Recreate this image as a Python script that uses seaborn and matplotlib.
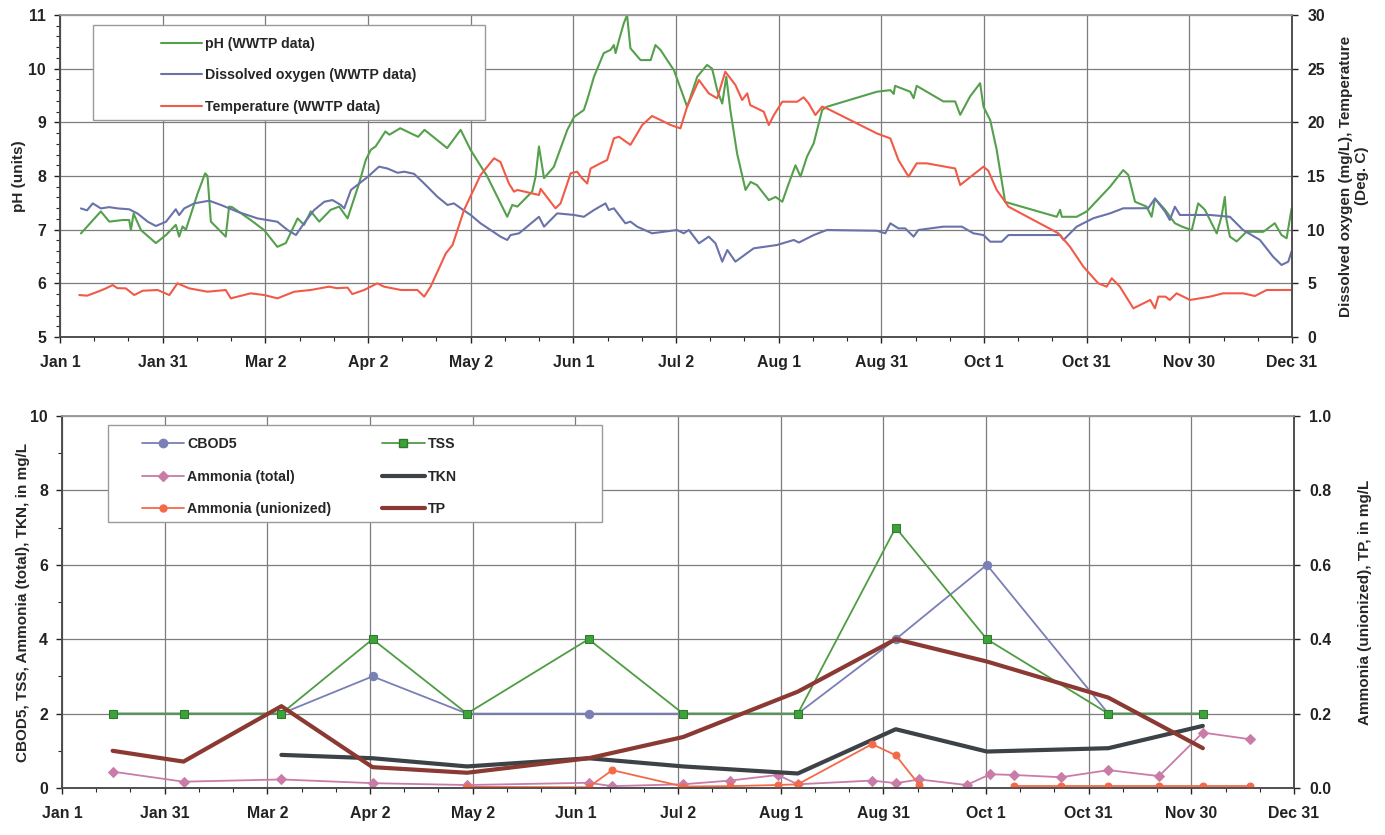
import numpy as np
import pandas as pd
import matplotlib
matplotlib.use("Agg")
import matplotlib.pyplot as plt
from matplotlib.lines import Line2D
from matplotlib.patches import Rectangle
from matplotlib.ticker import MultipleLocator, FixedLocator, FormatStrFormatter
import seaborn as sns

# ---------------------------------------------------------------- data
# x positions are days after Jan 1
month_labels = ["Jan 1", "Jan 31", "Mar 2", "Apr 2", "May 2", "Jun 1", "Jul 2",
                "Aug 1", "Aug 31", "Oct 1", "Oct 31", "Nov 30", "Dec 31"]

ph_day = [6.2, 12.1, 14.6, 18.6, 20.5, 21.0, 21.8, 24.0, 28.4, 31.4, 34.3, 35.3,
          36.3, 37.3, 40.8, 43.0, 43.7, 44.7, 49.1, 50.1, 51.0, 56.5, 60.5, 64.4,
          66.9, 70.4, 72.3, 74.3, 76.8, 80.2, 82.7, 85.2, 88.6, 90.6, 92.1, 93.5,
          96.4, 97.6, 100.8, 106.1, 108.0, 114.7, 118.7, 121.7, 126.6, 132.5, 134.0,
          135.5, 139.9, 140.9, 141.9, 143.4, 146.3, 150.3, 152.3, 155.2, 156.2,
          158.2, 161.1, 163.1, 164.1, 164.6, 165.6, 167.0, 168.0, 169.0, 172.0,
          175.0, 176.4, 177.9, 181.9, 185.8, 188.8, 191.7, 193.2, 194.7, 196.2,
          197.4, 198.6, 200.6, 203.1, 204.6, 206.5, 210.0, 212.0, 214.0, 215.9,
          217.9, 219.4, 221.3, 223.3, 225.8, 227.2, 242.0, 246.0, 247.0, 247.4,
          251.9, 252.9, 253.8, 261.7, 265.2, 266.7, 269.6, 272.6, 273.6, 275.6,
          277.5, 280.0, 281.5, 295.3, 296.3, 296.8, 301.2, 304.2, 311.1, 315.0,
          316.5, 318.5, 321.9, 323.4, 324.4, 327.4, 330.3, 332.3, 335.3, 337.2,
          339.2, 342.7, 344.1, 345.1, 345.6, 346.6, 348.6, 351.5, 356.5, 359.9,
          361.9, 363.4, 364.9]
ph_val = [6.93, 7.34, 7.15, 7.18, 7.18, 6.99, 7.30, 6.99, 6.75, 6.90, 7.09, 6.87,
          7.06, 7.00, 7.68, 8.05, 8.00, 7.15, 6.87, 7.43, 7.42, 7.18, 6.99, 6.68,
          6.75, 7.21, 7.09, 7.34, 7.15, 7.37, 7.43, 7.21, 7.86, 8.30, 8.49, 8.55,
          8.83, 8.77, 8.89, 8.73, 8.86, 8.52, 8.86, 8.48, 7.99, 7.24, 7.46,
          7.43, 7.71, 7.99, 8.55, 7.96, 8.17, 8.86, 9.10, 9.23, 9.42,
          9.85, 10.29, 10.35, 10.44, 10.29, 10.53, 10.84, 11.00, 10.38, 10.16,
          10.16, 10.44, 10.35, 9.97, 9.29, 9.85, 10.07, 10.00, 9.60, 9.35,
          9.85, 9.23, 8.42, 7.74, 7.89, 7.83, 7.55, 7.61, 7.52, 7.86,
          8.20, 7.99, 8.36, 8.61, 9.23, 9.29, 9.57, 9.60, 9.53, 9.68,
          9.57, 9.45, 9.68, 9.39, 9.39, 9.14, 9.48, 9.73, 9.29, 9.04,
          8.49, 7.52, 7.49, 7.24, 7.37, 7.24, 7.24, 7.34, 7.80, 8.11,
          8.02, 7.52, 7.43, 7.24, 7.58, 7.37, 7.12, 7.06, 6.99, 7.49,
          7.37, 6.93, 7.24, 7.61, 7.18, 6.87, 6.78, 6.96, 6.96, 7.12,
          6.90, 6.84, 7.40]

do_day = [6.2, 8.0, 9.7, 12.1, 14.6, 17.1, 20.5, 23.0, 26.0, 28.4, 31.4, 34.3,
          35.3, 36.8, 39.8, 44.2, 47.7, 52.6, 58.5, 64.4, 67.4, 69.9, 72.3, 75.3,
          78.3, 80.7, 83.2, 84.2, 86.2, 91.1, 94.5, 97.0, 100.0, 102.0, 104.9,
          107.9, 111.8, 114.8, 116.7, 118.7, 121.7, 124.6, 130.5, 132.5, 133.5,
          136.0, 141.9, 143.4, 147.3, 152.3, 155.2, 158.2, 161.6, 162.6, 164.1,
          167.5, 169.0, 171.0, 175.4, 182.8, 184.8, 186.3, 189.3, 192.2, 194.2,
          196.2, 197.7, 200.1, 205.5, 212.4, 217.4, 218.9, 223.3, 227.2, 242.0,
          244.5, 246.0, 248.4, 250.4, 252.9, 254.3, 261.7, 267.2, 270.6, 273.6,
          275.6, 279.0, 281.0, 296.3, 297.3, 301.2, 306.1, 311.1, 315.0, 322.4,
          324.4, 327.4, 328.8, 330.3, 331.8, 340.7, 346.6, 350.5, 355.5, 359.4,
          361.9, 363.9, 365.0]
do_val = [11.98, 11.80, 12.45, 11.98, 12.10, 11.98, 11.90, 11.50, 10.74, 10.34,
          10.74, 11.90, 11.36, 11.98, 12.45, 12.70, 12.30, 11.67, 11.05, 10.74,
          9.97, 9.50, 10.60, 11.83, 12.60, 12.76, 12.30, 11.98, 13.70, 14.90,
          15.87, 15.70, 15.30, 15.40, 15.20, 14.30, 13.07, 12.30, 12.45, 12.00,
          11.36, 10.59, 9.35, 9.04, 9.50, 9.66, 11.20, 10.28, 11.52, 11.37, 11.20,
          11.83, 12.45, 11.83, 11.99, 10.59, 10.75, 10.28, 9.66, 9.97, 9.66, 9.97,
          8.73, 9.35, 8.73, 7.02, 8.11, 7.02, 8.26, 8.57, 9.04, 8.80, 9.50, 9.97,
          9.90, 9.66, 10.59, 10.12, 10.12, 9.35, 9.97, 10.28, 10.28, 9.66, 9.50,
          8.88, 8.88, 9.50, 9.50, 9.04, 10.28, 11.06, 11.52, 11.99, 12.00, 12.90,
          11.68, 10.90, 12.14, 11.37, 11.37, 11.20, 9.97, 9.04, 7.48, 6.71, 7.02,
          8.10]

temp_day = [5.7, 8.0, 11.2, 13.6, 15.6, 17.0, 19.5, 22.0, 24.5, 28.9, 32.4, 34.8,
            38.3, 43.7, 49.1, 50.6, 56.5, 60.5, 64.4, 69.4, 74.3, 79.7, 82.0, 85.2,
            86.6, 90.1, 94.0, 96.0, 101.0, 105.9, 107.9, 109.8, 114.3, 116.3, 119.7,
            124.6, 128.6, 130.5, 133.0, 134.5, 135.5, 141.9, 142.4, 146.8, 148.3,
            151.3, 153.2, 154.7, 156.2, 157.2, 160.1, 162.1, 164.1, 165.6, 169.0,
            172.5, 175.4, 177.9, 180.9, 183.8, 185.8, 189.3, 192.2, 194.7, 197.1,
            200.1, 202.1, 203.6, 204.5, 206.5, 208.5, 210.0, 211.5, 214.0, 218.4,
            220.3, 221.8, 223.8, 225.8, 227.2, 242.0, 246.0, 248.4, 251.4, 253.8,
            256.8, 265.2, 266.7, 271.1, 273.6, 275.0, 277.5, 280.0, 281.0, 288.4,
            295.8, 299.2, 303.2, 307.6, 310.1, 311.6, 314.0, 318.0, 321.0, 323.0,
            324.4, 325.4, 327.5, 328.8, 330.8, 334.8, 340.7, 344.6, 350.5, 354.0,
            357.5, 365.0]
temp_val = [3.91, 3.85, 4.22, 4.53, 4.84, 4.55, 4.53, 3.91, 4.31, 4.38, 3.91, 5.00,
            4.53, 4.22, 4.38, 3.60, 4.07, 3.91, 3.60, 4.22, 4.38, 4.69, 4.55, 4.60,
            4.00, 4.38, 5.00, 4.69, 4.38, 4.38, 3.76, 4.69, 7.79, 8.57, 11.83,
            15.09, 16.65, 16.30, 14.30, 13.54, 13.70, 13.23, 13.80, 11.99, 12.45,
            15.25, 15.40, 14.78, 14.30, 15.70, 16.18, 16.49, 18.51, 18.66, 17.90,
            19.75, 20.59, 20.22, 19.75, 19.44, 21.46, 23.94, 22.70, 22.24, 24.72,
            23.48, 22.08, 22.70, 21.60, 21.30, 20.99, 19.75, 20.68, 21.92, 21.92,
            22.33, 21.77, 20.68, 21.46, 21.30, 18.97, 18.50, 16.49, 14.94, 16.18,
            16.18, 15.70, 14.16, 15.25, 15.87, 15.50, 13.70, 12.61, 12.14, 10.90,
            9.66, 8.42, 6.55, 5.00, 4.69, 5.47, 4.69, 2.67, 3.14, 3.45,
            2.67, 3.76, 3.76, 3.45, 4.07, 3.45, 3.76, 4.07, 4.07, 3.82,
            4.38, 4.38]

# monthly grab samples
sample_day = [15, 36, 65, 92, 120, 156, 184, 218, 247, 274, 310, 338]
cbod5 = [2, 2, 2, 3, 2, 2, 2, 2, 4, 6, 2, 2]
tss = [2, 2, 2, 4, 2, 4, 2, 2, 7, 4, 2, 2]
tp = [0.10, 0.071, 0.22, 0.056, 0.041, 0.08, 0.137, 0.259, 0.40, 0.34, 0.243, 0.107]

tkn_day = [65, 92, 120, 156, 184, 218, 247, 274, 310, 338]
tkn = [0.89, 0.80, 0.58, 0.80, 0.58, 0.39, 1.58, 0.98, 1.07, 1.67]

nh3_day = [15, 36, 65, 92, 120, 156, 163, 184, 198, 212, 218, 240, 247, 254, 268,
           275, 282, 296, 310, 325, 338, 352]
nh3_total = [0.44, 0.17, 0.23, 0.13, 0.08, 0.14, 0.05, 0.10, 0.20, 0.35, 0.10,
             0.20, 0.13, 0.23, 0.08, 0.37, 0.35, 0.29, 0.48, 0.32, 1.49, 1.31]
nh3_union = [np.nan, np.nan, np.nan, np.nan, 0.003, 0.002, 0.048, 0.004, 0.005,
             0.008, 0.010, 0.118, 0.088, 0.008, np.nan, 0.005, 0.005, 0.005,
             0.005, 0.005, 0.005, 0.005]
nh3_union_valid = [False, False, False, False, True, True, True, True, True, True,
                   True, True, True, True, True, False, True, True, True, True,
                   True, True]

# ---------------------------------------------------------------- style
sns.set_theme(style="white")
plt.rcParams["font.family"] = ["Liberation Sans", "DejaVu Sans"]
plt.rcParams["font.weight"] = "bold"
plt.rcParams["axes.labelweight"] = "bold"

C_PH, C_DO, C_TEMP = "#55a04c", "#6a72aa", "#f25a48"
C_CBOD, C_TSS, C_NH3, C_UN = "#7a7fb6", "#4f9c44", "#c97ca8", "#f36a48"
C_TKN, C_TP = "#3d4246", "#8a3a32"
GRID = "#7c7c7c"
SPINE = "#4a4a4a"
TICK_SIZE = 11.4

fig = plt.figure(figsize=(13.85, 8.35), dpi=100)
fig.patch.set_facecolor("white")

ax_top = fig.add_axes([60 / 1385, 1 - 337 / 835, 1232 / 1385, 322 / 835])
ax_bot = fig.add_axes([62 / 1385, 1 - 788 / 835, 1232 / 1385, 372 / 835])

major_days = [i * 365 / 12 for i in range(13)]
minor_days = [i * 365 / 36 for i in range(37)]


def style_axes(ax, axr):
    ax.set_xlim(0, 365)
    ax.xaxis.set_major_locator(FixedLocator(major_days))
    ax.xaxis.set_minor_locator(FixedLocator(minor_days))
    ax.set_xticklabels(month_labels)
    ax.grid(True, which="major", color=GRID, lw=0.9)
    ax.set_axisbelow(True)
    for a in (ax, axr):
        for side, sp in a.spines.items():
            sp.set_color(SPINE if side != "top" else "#9a9a9a")
            sp.set_linewidth(1.1)
        a.tick_params(labelsize=TICK_SIZE, colors="#222222", width=1, length=4)
        a.tick_params(which="minor", width=0.8, length=3)
        for lbl in a.get_xticklabels() + a.get_yticklabels():
            lbl.set_fontweight("bold")
    ax.tick_params(axis="x", which="both", direction="out", bottom=True)
    ax.tick_params(axis="x", which="major", pad=9)
    ax.tick_params(axis="y", which="both", direction="out", left=True)
    ax.tick_params(axis="y", which="major", pad=6)
    axr.tick_params(axis="y", which="both", direction="out", right=True)
    axr.tick_params(axis="y", which="major", pad=7)


# ---------------------------------------------------------------- top panel
ax_top_r = ax_top.twinx()
sns.lineplot(x=ph_day, y=ph_val, ax=ax_top, color=C_PH, lw=1.5,
             estimator=None, sort=False)
sns.lineplot(x=do_day, y=do_val, ax=ax_top_r, color=C_DO, lw=1.5,
             estimator=None, sort=False)
sns.lineplot(x=temp_day, y=temp_val, ax=ax_top_r, color=C_TEMP, lw=1.5,
             estimator=None, sort=False)

ax_top.set_ylim(5, 11)
ax_top.yaxis.set_major_locator(MultipleLocator(1))
ax_top.yaxis.set_minor_locator(MultipleLocator(0.2))
ax_top_r.set_ylim(0, 30)
ax_top_r.yaxis.set_major_locator(MultipleLocator(5))
style_axes(ax_top, ax_top_r)
ax_top.set_ylabel("pH (units)", fontsize=11, fontweight="bold")
ax_top.yaxis.set_label_coords(-0.028, 0.5)
ax_top_r.set_ylabel("Dissolved oxygen (mg/L), Temperature\n(Deg. C)",
                    fontsize=11, fontweight="bold", linespacing=1.2)
ax_top_r.yaxis.set_label_coords(1.038, 0.5)
ax_top.set_xlabel("")

ax_top_r.add_patch(Rectangle((0.027, 0.674), 0.318, 0.295, transform=ax_top_r.transAxes,
                             facecolor="white", edgecolor="#9a9a9a", lw=1.0, zorder=5))
top_handles = [Line2D([], [], color=C_PH, lw=1.5),
               Line2D([], [], color=C_DO, lw=1.5),
               Line2D([], [], color=C_TEMP, lw=1.5)]
top_leg = ax_top_r.legend(top_handles,
                          ["pH (WWTP data)", "Dissolved oxygen (WWTP data)",
                           "Temperature (WWTP data)"],
                          loc="upper left", bbox_to_anchor=(0.076, 0.955),
                          frameon=False, borderpad=0, handlelength=2.9,
                          handletextpad=0.25, labelspacing=1.25,
                          prop={"size": 10.2, "weight": "bold"})
top_leg.set_zorder(6)

# ---------------------------------------------------------------- bottom panel
ax_bot_r = ax_bot.twinx()
sns.lineplot(x=sample_day, y=cbod5, ax=ax_bot, color=C_CBOD, lw=1.3, marker="o",
             markersize=6, markeredgecolor=C_CBOD, estimator=None, sort=False)
sns.lineplot(x=sample_day, y=tss, ax=ax_bot, color=C_TSS, lw=1.3, marker="s",
             markersize=6, markerfacecolor="#3ea23a", markeredgecolor="#2f7a2c",
             estimator=None, sort=False)
sns.lineplot(x=nh3_day, y=nh3_total, ax=ax_bot, color=C_NH3, lw=1.3, marker="D",
             markersize=5.5, markeredgecolor=C_NH3, estimator=None, sort=False)
sns.lineplot(x=tkn_day, y=tkn, ax=ax_bot, color=C_TKN, lw=3.0,
             estimator=None, sort=False)

# unionized ammonia: one run per stretch of consecutive results
un = pd.DataFrame({"day": nh3_day, "val": nh3_union, "ok": nh3_union_valid})
un["run"] = (~un["ok"]).cumsum()
un = un[un["ok"]]
sns.lineplot(data=un, x="day", y="val", units="run", ax=ax_bot_r, color=C_UN,
             lw=1.3, marker="o", markersize=5, markeredgecolor=C_UN,
             estimator=None, sort=False)
sns.lineplot(x=sample_day, y=tp, ax=ax_bot_r, color=C_TP, lw=3.0,
             estimator=None, sort=False)

ax_bot.set_ylim(0, 10)
ax_bot.yaxis.set_major_locator(MultipleLocator(2))
ax_bot.yaxis.set_minor_locator(MultipleLocator(1))
ax_bot_r.set_ylim(0, 1.0)
ax_bot_r.yaxis.set_major_locator(MultipleLocator(0.2))
ax_bot_r.yaxis.set_major_formatter(FormatStrFormatter("%.1f"))
style_axes(ax_bot, ax_bot_r)
ax_bot.set_ylabel("CBOD5, TSS, Ammonia (total), TKN, in mg/L", fontsize=11,
                  fontweight="bold")
ax_bot.yaxis.set_label_coords(-0.026, 0.5)
ax_bot_r.set_ylabel("Ammonia (unionized), TP, in mg/L", fontsize=11,
                    fontweight="bold")
ax_bot_r.yaxis.set_label_coords(1.052, 0.5)
ax_bot.set_xlabel("")
ax_bot_r.set_xlabel("")

ax_bot_r.add_patch(Rectangle((0.037, 0.715), 0.401, 0.261, transform=ax_bot_r.transAxes,
                             facecolor="white", edgecolor="#9a9a9a", lw=1.0, zorder=5))
bot_handles = [
    Line2D([], [], color=C_CBOD, lw=1.3, marker="o", markersize=6),
    Line2D([], [], color=C_NH3, lw=1.3, marker="D", markersize=5.5),
    Line2D([], [], color=C_UN, lw=1.3, marker="o", markersize=5),
    Line2D([], [], color=C_TSS, lw=1.3, marker="s", markersize=6,
           markerfacecolor="#3ea23a", markeredgecolor="#2f7a2c"),
    Line2D([], [], color=C_TKN, lw=3.0),
    Line2D([], [], color=C_TP, lw=3.0),
]
bot_labels = ["CBOD5", "Ammonia (total)", "Ammonia (unionized)", "TSS", "TKN", "TP"]
bot_leg = ax_bot_r.legend(bot_handles, bot_labels, ncol=2, loc="upper left",
                          bbox_to_anchor=(0.059, 0.962), frameon=False, borderpad=0,
                          handlelength=3.0, handletextpad=0.2, labelspacing=1.3,
                          columnspacing=3.6, prop={"size": 10.2, "weight": "bold"})
bot_leg.set_zorder(6)
for a in (ax_top_r, ax_bot_r):
    a.set_xlabel("")

fig.savefig("out.png", dpi=100, facecolor="white")
